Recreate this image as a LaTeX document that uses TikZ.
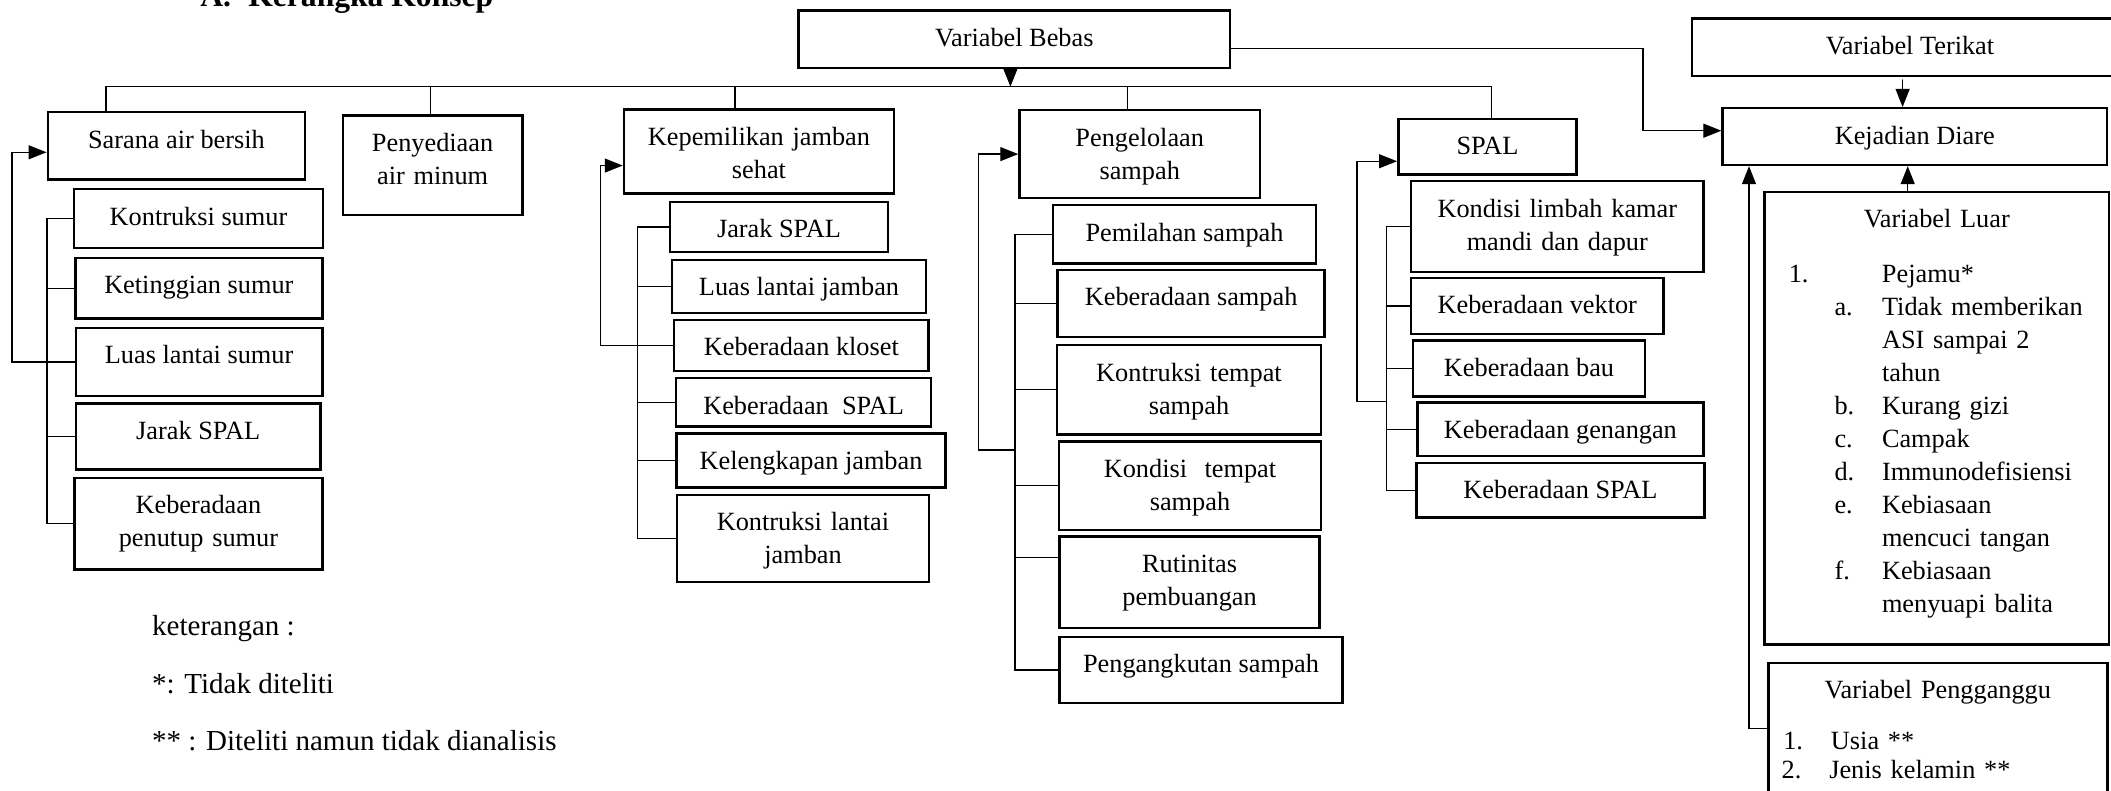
\documentclass[tikz,border=0pt]{standalone}
\usepackage{fontspec}
\setmainfont{Liberation Serif}
\usetikzlibrary{arrows.meta}
\newcommand{\hurufisi}{\fontsize{13.15}{16.5}\selectfont}
\newcommand{\butir}[2]{\hspace*{35pt}\makebox[23.75pt][l]{#1}#2}
\newcommand{\lanjut}[1]{\hspace*{58.75pt}#1}
\begin{document}
\begin{tikzpicture}[x=0.5pt,y=-0.5pt,line cap=round,
  kotak/.style={draw,line width=1.25pt,anchor=north,inner xsep=2pt,inner ysep=0pt,text height=18pt,font=\hurufisi},
  kotakbaris/.style={kotak,align=center,text width=#1},
  catatan/.style={font=\fontsize{14.5}{17}\selectfont,anchor=base west,inner sep=0pt},
  garis/.style={line width=0.6pt},
  panah/.style={garis,-{Triangle[length=9pt,width=7pt]}}]
  \useasboundingbox (0,0) rectangle (2111,791);
  \clip (0,0) rectangle (2111,791);
  % judul, terpotong di tepi atas
  \node[font=\fontsize{15.8}{19}\selectfont\bfseries,anchor=base west,inner sep=0pt] (judul) at (200,6.5) {A.\hspace{8.6pt}Kerangka Konsep};
  % variabel utama
  \node[kotak,minimum width=215.75pt,text depth=10.7pt] (bebas) at (1014.25,9.3) {Variabel Bebas};
  \node[kotak,minimum width=218pt,text depth=10.85pt] (terikat) at (1910,17.3) {Variabel Terikat};
  \node[kotak,minimum width=192.1pt,text depth=10.35pt] (diare) at (1914.7,107) {Kejadian Diare};
  \node[kotak,minimum width=128.6pt,text depth=15.65pt] (sarana) at (176.4,111) {Sarana air bersih};
  \node[kotakbaris=82pt,minimum width=89.7pt,text depth=31.7pt] (airminum) at (432.6,114.3) {Penyediaan\\air minum};
  \node[kotakbaris=128pt,minimum width=135pt,text depth=24pt] (kep) at (759,108.3) {Kepemilikan jamban\\sehat};
  \node[kotakbaris=113pt,minimum width=120.25pt,text depth=25.85pt] (peng) at (1139.75,109) {Pengelolaan\\sampah};
  \node[kotak,minimum width=89.2pt,text depth=9.8pt] (spal) at (1487.5,117.7) {SPAL};
  % sarana air bersih
  \node[kotak,minimum width=124.5pt,text depth=11.35pt] (s1) at (198.5,188) {Kontruksi sumur};
  \node[kotak,minimum width=123.45pt,text depth=12.3pt] (s2) at (198.85,256.7) {Ketinggian sumur};
  \node[kotak,minimum width=123.2pt,text depth=16.15pt] (s3) at (199.1,326.7) {Luas lantai sumur};
  \node[kotak,minimum width=122.3pt,text depth=15pt] (s4) at (198.2,402.3) {Jarak SPAL};
  \node[kotakbaris=117pt,minimum width=123.85pt,text depth=27.8pt] (s5) at (198.45,476.7) {Keberadaan\\penutup sumur};
  % jamban
  \node[kotak,minimum width=109pt,text depth=7pt] (k1) at (779,200.7) {Jarak SPAL};
  \node[kotak,minimum width=127pt,text depth=8.5pt] (k2) at (799,258.7) {Luas lantai jamban};
  \node[kotak,minimum width=127.35pt,text depth=7.65pt] (k3) at (801.35,318.7) {Keberadaan kloset};
  \node[kotak,minimum width=127.6pt,text depth=6pt] (k4) at (803.6,377) {Keberadaan\ \ SPAL};
  \node[kotak,minimum width=134.55pt,text depth=9pt] (k5) at (811.05,432) {Kelengkapan jamban};
  \node[kotakbaris=120pt,minimum width=126pt,text depth=25.5pt] (k6) at (803,493.7) {Kontruksi lantai\\jamban};
  % sampah
  \node[kotak,minimum width=131.5pt,text depth=11.15pt] (p1) at (1184.5,204) {Pemilahan sampah};
  \node[kotak,minimum width=133.45pt,text depth=15.65pt] (p2) at (1191.15,268.7) {Keberadaan sampah};
  \node[kotakbaris=125pt,minimum width=132pt,text depth=26.65pt] (p3) at (1189,344) {Kontruksi tempat\\sampah};
  \node[kotakbaris=125pt,minimum width=131pt,text depth=26.2pt] (p4) at (1190,440.3) {Kondisi\ \ tempat\\sampah};
  \node[kotakbaris=124pt,minimum width=130.1pt,text depth=27.85pt] (p5) at (1189.6,535) {Rutinitas\\pembuangan};
  \node[kotak,minimum width=141.6pt,text depth=14.95pt] (p6) at (1201,635.7) {Pengangkutan sampah};
  % spal
  \node[kotakbaris=140pt,minimum width=146.1pt,text depth=27.35pt] (sp1) at (1557.3,180) {Kondisi limbah kamar\\mandi dan dapur};
  \node[kotak,minimum width=126.3pt,text depth=10pt] (sp2) at (1537.3,276.7) {Keberadaan vektor};
  \node[kotak,minimum width=116pt,text depth=10pt] (sp3) at (1529,339.3) {Keberadaan bau};
  \node[kotak,minimum width=143pt,text depth=8.7pt] (sp4) at (1560.4,401.3) {Keberadaan genangan};
  \node[kotak,minimum width=144.05pt,text depth=9.3pt] (sp5) at (1560.45,461.7) {Keberadaan SPAL};
  % variabel luar dan pengganggu
  \node[kotak,align=left,text width=172.25pt,inner xsep=0pt,minimum width=172.25pt,text depth=208.3pt] (luar) at (1936.75,190.7)
    {\makebox[172.25pt]{Variabel Luar}\\[11pt]
     \hspace*{12.15pt}\makebox[46.6pt][l]{1.}Pejamu*\\
     \butir{a.}{Tidak memberikan}\\
     \lanjut{ASI sampai 2}\\
     \lanjut{tahun}\\
     \butir{b.}{Kurang gizi}\\
     \butir{c.}{Campak}\\
     \butir{d.}{Immunodefisiensi}\\
     \butir{e.}{Kebiasaan}\\
     \lanjut{mencuci tangan}\\
     \butir{f.}{Kebiasaan}\\
     \lanjut{menyuapi balita}};
  \node[kotak,align=left,text width=169.5pt,inner xsep=0pt,minimum width=169.5pt,text depth=51.15pt] (ganggu) at (1937.8,661.7)
    {\makebox[169.5pt]{Variabel Pengganggu}\\[9pt]
     \hspace*{7.5pt}\makebox[23.85pt][l]{1.}Usia **\\[-2pt]
     \hspace*{6.7pt}\makebox[23.8pt][l]{2.}Jenis kelamin **};
  % keterangan
  \node[catatan] (ket) at (151.8,635) {keterangan :};
  \node[catatan] (ket1) at (151.8,693.3) {*: Tidak diteliti};
  \node[catatan] (ket2) at (151.8,750.7) {** : Diteliti namun tidak dianalisis};
  % titik bantu
  \coordinate (bus0) at (1010.4,86.7);
  \coordinate (bus1) at (106,86.7);
  \coordinate (bus2) at (430.8,86.7);
  \coordinate (bus3) at (735,86.7);
  \coordinate (bus4) at (1127.6,86.7);
  \coordinate (bus5) at (1491.4,86.7);
  \coordinate (sarV) at (47,0);
  \coordinate (kepV) at (637.5,0);
  \coordinate (pengV) at (1015,0);
  \coordinate (spalV) at (1386.4,0);
  \coordinate (pengR) at (1015,450);
  \coordinate (spalR) at (1386.4,401.7);
  \coordinate (tikung) at (1643,130.7);
  \coordinate (tA) at (1902.6,80);
  \coordinate (lA) at (1907.7,190.7);
  \coordinate (gA) at (1749,728.3);
  % garis utama
  \draw[panah] (bus0 |- bebas.south) -- (bus0);
  \draw[garis] (bus1 |- sarana.north) -- (bus1) -- (bus5) -- (bus5 |- spal.north);
  \foreach \b/\n in {bus2/airminum,bus3/kep,bus4/peng}
    \draw[garis] (\b) -- (\b |- \n.north);
  \draw[panah] ([yshift=-4.65pt]bebas.east) -| (tikung) -- (tikung -| diare.west);
  \draw[panah] (tA) -- (tA |- diare.north);
  \draw[panah] (lA) -- (lA |- diare.south);
  \draw[panah] (gA -| ganggu.west) -- (gA) -- (gA |- diare.south);
  % cabang sarana air bersih
  \draw[garis] (s1.west) -- (s1.west -| sarV) |- (s5.west);
  \foreach \n in {s2,s3,s4}
    \draw[garis] (\n.west) -- (\n.west -| sarV);
  \draw[panah] (s3.west -| sarV) -- ++(-35,0) |- ([yshift=-3.2pt]sarana.west);
  % cabang jamban
  \draw[garis] (k1.west) -- (k1.west -| kepV) |- (k6.west);
  \foreach \n in {k2,k3,k4,k5}
    \draw[garis] (\n.west) -- (\n.west -| kepV);
  \draw[panah] (k3.west -| kepV) -- ++(-37,0) |- ([yshift=-7pt]kep.west);
  % cabang sampah
  \draw[garis] (p1.west) -- (p1.west -| pengV) |- (p6.west);
  \foreach \n in {p2,p3,p4}
    \draw[garis] (\n.west) -- (\n.west -| pengV);
  \draw[garis] ([yshift=12.4pt]p5.west) -- ([yshift=12.4pt]p5.west -| pengV);
  \draw[panah] (pengR) -- ++(-36.3,0) |- (peng.west);
  % cabang spal
  \draw[garis] (sp1.west) -- (sp1.west -| spalV) |- (sp5.west);
  \foreach \n in {sp2,sp3,sp4}
    \draw[garis] (\n.west) -- (\n.west -| spalV);
  \draw[panah] (spalR) -- ++(-29.4,0) |- ([yshift=-7.25pt]spal.west);
\end{tikzpicture}
\end{document}
